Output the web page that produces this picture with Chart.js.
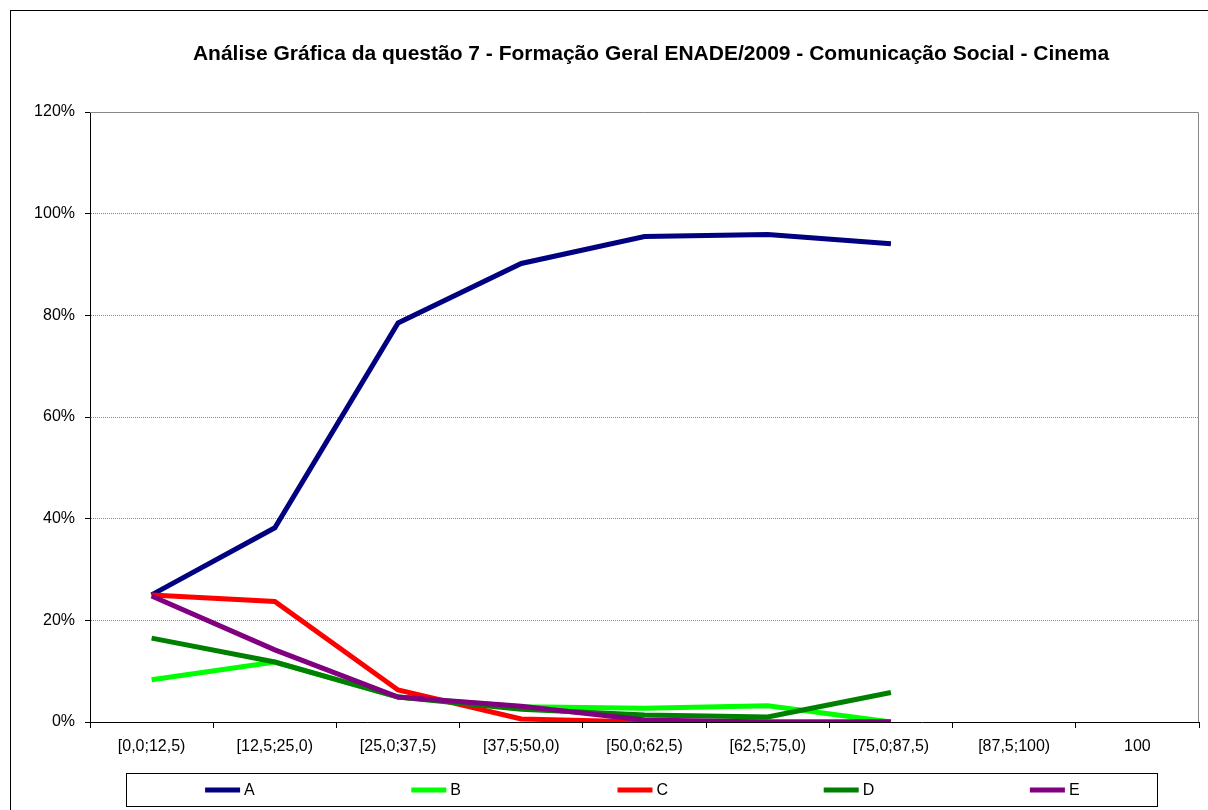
<!DOCTYPE html>
<html>
<head>
<meta charset="utf-8">
<script src="https://cdn.jsdelivr.net/npm/chart.js@4/dist/chart.umd.min.js"></script>
<style>
html,body{margin:0;padding:0;background:#fff;}
canvas{display:block;}
</style>
</head>
<body>
<canvas id="c" width="1208" height="810"></canvas>
<script>
const titleText = 'Análise Gráfica da questão 7 - Formação Geral ENADE/2009 - Comunicação Social - Cinema';
const categories = ['[0,0;12,5)','[12,5;25,0)','[25,0;37,5)','[37,5;50,0)','[50,0;62,5)','[62,5;75,0)','[75,0;87,5)','[87,5;100)','100'];
const seriesNames = ['A','B','C','D','E'];
const seriesA = [25.0, 38.2, 78.5, 90.2, 95.5, 95.9, 94.1, null, null];
const seriesB = [8.3, 11.8, 4.9, 3.0, 2.7, 3.2, 0.0, null, null];
const seriesC = [25.0, 23.7, 6.3, 0.6, 0.0, 0.0, 0.0, null, null];
const seriesD = [16.5, 11.8, 4.9, 2.5, 1.4, 1.0, 5.8, null, null];
const seriesE = [24.8, 14.2, 4.9, 3.1, 0.4, 0.0, 0.0, null, null];
const yTicks = [0, 20, 40, 60, 80, 100, 120];
const colors = ['#000080','#00FF00','#FF0000','#008000','#800080'];

const FONT = '"Liberation Sans", Arial, sans-serif';
const allSeries = [seriesA, seriesB, seriesC, seriesD, seriesE];

const decor = {
  id: 'decor',
  beforeDraw(chart) {
    const ctx = chart.ctx;
    ctx.save();
    ctx.fillStyle = '#fff';
    ctx.fillRect(0, 0, chart.width, chart.height);
    ctx.strokeStyle = '#000';
    ctx.lineWidth = 1;
    ctx.strokeRect(10.5, 10.5, 1210, 820);
    ctx.font = 'bold 21px ' + FONT;
    ctx.fillStyle = '#000';
    ctx.textAlign = 'center';
    ctx.textBaseline = 'middle';
    ctx.fillText(titleText, 651, 54);
    ctx.restore();
  },
  beforeDatasetsDraw(chart) {
    const a = chart.chartArea;
    const ctx = chart.ctx;
    ctx.save();
    ctx.strokeStyle = '#888';
    ctx.lineWidth = 1;
    ctx.beginPath();
    ctx.moveTo(a.left, a.top + 0.5);
    ctx.lineTo(a.right - 0.5, a.top + 0.5);
    ctx.lineTo(a.right - 0.5, a.bottom);
    ctx.stroke();
    ctx.restore();
  },
  afterDraw(chart) {
    const ctx = chart.ctx;
    ctx.save();
    const bx = 126, by = 773, bw = 1031, bh = 33;
    ctx.strokeStyle = '#000';
    ctx.lineWidth = 1;
    ctx.strokeRect(bx + 0.5, by + 0.5, bw, bh);
    const slot = bw / chart.data.datasets.length;
    ctx.font = '16px ' + FONT;
    ctx.textBaseline = 'middle';
    ctx.textAlign = 'left';
    chart.data.datasets.forEach((ds, i) => {
      const cx = bx + slot * i + slot / 2;
      const x0 = cx - 24;
      const y = by + bh / 2 + 0.5;
      ctx.strokeStyle = ds.borderColor;
      ctx.lineWidth = 5;
      ctx.beginPath();
      ctx.moveTo(x0, y);
      ctx.lineTo(x0 + 35, y);
      ctx.stroke();
      ctx.fillStyle = '#000';
      ctx.fillText(ds.label, x0 + 39, y + 1);
    });
    ctx.restore();
  }
};

new Chart(document.getElementById('c'), {
  type: 'line',
  data: {
    labels: categories,
    datasets: seriesNames.map((n, i) => ({
      label: n,
      data: allSeries[i],
      borderColor: colors[i],
      backgroundColor: colors[i],
      borderWidth: 5,
      pointRadius: 0,
      tension: 0,
      fill: false,
      spanGaps: false,
      order: 5 - i
    }))
  },
  options: {
    responsive: false,
    animation: false,
    devicePixelRatio: 1,
    layout: { padding: { top: 112, left: 10, right: 9, bottom: 48 } },
    plugins: {
      legend: { display: false },
      title: { display: false },
      tooltip: { enabled: false }
    },
    scales: {
      x: {
        offset: true,
        afterFit(s) { s.height = 40; },
        grid: { offset: true, drawOnChartArea: false, color: '#000', tickLength: 6 },
        border: { color: '#000', width: 1 },
        ticks: { color: '#000', font: { family: FONT, size: 16 }, padding: 9, maxRotation: 0, autoSkip: false }
      },
      y: {
        min: 0, max: 120,
        afterFit(s) { s.width = 80; },
        afterBuildTicks(s) { s.ticks = yTicks.map(v => ({ value: v })); },
        grid: { color: '#888', tickColor: '#000', tickLength: 5 },
        border: { color: '#000', width: 1, dash: [1, 1] },
        ticks: { color: '#000', font: { family: FONT, size: 16 }, padding: 10, callback: v => v + '%' }
      }
    }
  },
  plugins: [decor]
});
</script>
</body>
</html>
